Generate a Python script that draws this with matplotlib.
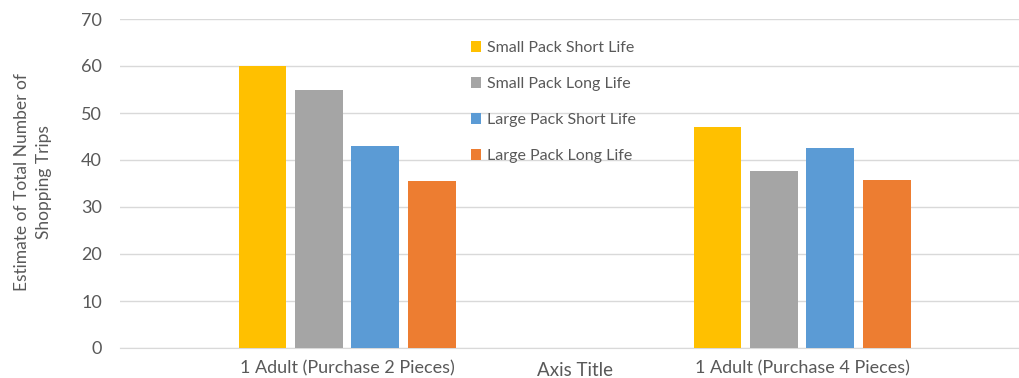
import matplotlib
matplotlib.use("Agg")
import matplotlib.pyplot as plt
import numpy as np

categories = ["1 Adult (Purchase 2 Pieces)", "1 Adult (Purchase 4 Pieces)"]
series_names = ["Small Pack Short Life", "Small Pack Long Life",
                "Large Pack Short Life", "Large Pack Long Life"]
small_short = [60, 47]
small_long = [55, 37.7]
large_short = [43, 42.5]
large_long = [35.5, 35.7]
colors = ["#FFC000", "#A5A5A5", "#5B9BD5", "#ED7D31"]
yticks = [0, 10, 20, 30, 40, 50, 60, 70]

plt.rcParams['font.family'] = ['Lato', 'DejaVu Sans']
txt = "#595959"

fig = plt.figure(figsize=(10.2, 3.78), dpi=100)
ax = fig.add_axes([120/1020, 1-348/378, 900/1020, (348-19)/378])

x = np.arange(len(categories))
step = 0.124
width = 0.105
all_series = [small_short, small_long, large_short, large_long]
for i, (vals, name, c) in enumerate(zip(all_series, series_names, colors)):
    ax.bar(x + (i - 1.5) * step, vals, width=width, color=c, label=name, zorder=3)

ax.set_xlim(-0.499, 1.479)
ax.set_ylim(0, 70)
ax.set_yticks(yticks)
ax.yaxis.grid(True, color="#D9D9D9", linewidth=1, zorder=0)
ax.set_axisbelow(True)
for s in ["top", "right", "left"]:
    ax.spines[s].set_visible(False)
ax.spines["bottom"].set_color("#D9D9D9")
ax.tick_params(axis="both", length=0, colors=txt, labelsize=13)
ax.tick_params(axis="y", pad=13)
ax.tick_params(axis="x", pad=9)
ax.set_xticks(x)
ax.set_xticklabels(categories)
fig.text(575/1020, 1-371/378, "Axis Title", color=txt, fontsize=13.5, ha="center", va="center")
fig.text(33/1020, 1-182/378, "Estimate of Total Number of\nShopping Trips", color=txt,
         fontsize=12.5, rotation=90, ha="center", va="center", multialignment="center",
         linespacing=1.5)

leg = ax.legend(loc="upper left", bbox_to_anchor=(463/1020, 1-33/378), bbox_transform=fig.transFigure,
                frameon=False, fontsize=11.5, labelcolor=txt, handlelength=0.65, handleheight=0.65,
                handletextpad=0.35, labelspacing=1.38, borderpad=0)

fig.savefig("out.png", dpi=100)
